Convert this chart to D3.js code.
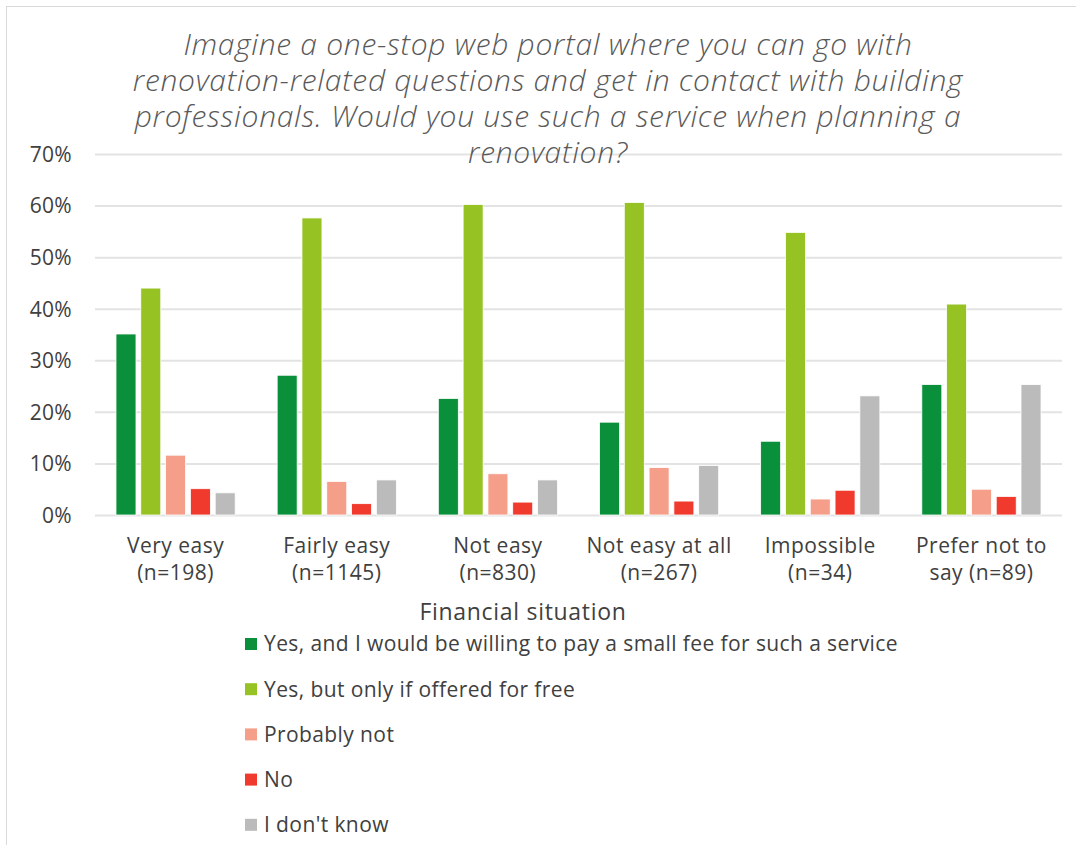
<!DOCTYPE html>
<html>
<head>
<meta charset="utf-8">
<script src="https://cdn.jsdelivr.net/npm/d3@7"></script>
<style>
  body { margin: 0; background: #fff; }
  text { font-family: "Open Sans", "Noto Sans", sans-serif; }
</style>
</head>
<body>
<div id="chart"></div>
<script>
var categories = [
  ["Very easy", "(n=198)"],
  ["Fairly easy", "(n=1145)"],
  ["Not easy", "(n=830)"],
  ["Not easy at all", "(n=267)"],
  ["Impossible", "(n=34)"],
  ["Prefer not to", "say (n=89)"]
];
var seriesNames = [
  "Yes, and I would be willing to pay a small fee for such a service",
  "Yes, but only if offered for free",
  "Probably not",
  "No",
  "I don't know"
];
var seriesColors = ["#0a8f3a", "#97c224", "#f59f8a", "#ef3a2d", "#bbbbbb"];
// values in % per series, one per category
var payFee   = [35.1, 27.1, 22.6, 18.0, 14.3, 25.3];
var onlyFree = [44.0, 57.6, 60.2, 60.6, 54.8, 40.9];
var probNot  = [11.6, 6.5, 8.0, 9.2, 3.1, 5.0];
var no       = [5.1, 2.2, 2.5, 2.7, 4.8, 3.6];
var dontKnow = [4.3, 6.8, 6.8, 9.6, 23.1, 25.3];
var yTicks = [0, 10, 20, 30, 40, 50, 60, 70];
var titleLines = [
  "Imagine a one-stop web portal where you can go with",
  "renovation-related questions and get in contact with building",
  "professionals. Would you use such a service when planning a",
  "renovation?"
];

var allSeries = [payFee, onlyFree, probNot, no, dontKnow];

var W = 1076, H = 845;
var svg = d3.select("#chart").append("svg").attr("width", W).attr("height", H);

// outer chart border
svg.append("rect")
  .attr("x", 6.5).attr("y", 6.5)
  .attr("width", W + 20).attr("height", H + 20)
  .attr("fill", "none").attr("stroke", "#d9d9d9").attr("stroke-width", 1);

var margin = {left: 95, right: 1062, top: 154, bottom: 515};

var x = d3.scaleBand().domain(d3.range(categories.length)).range([margin.left, margin.right]);
var y = d3.scaleLinear().domain([0, 70]).range([margin.bottom, margin.top]);
var step = 24.8;
var x1 = d3.scaleBand().domain(d3.range(seriesNames.length)).range([0, step * seriesNames.length]);

// gridlines + tick labels
var yAxis = d3.axisLeft(y).tickValues(yTicks).tickSize(-(margin.right - margin.left)).tickFormat(function(d) { return d + "%"; });
var gy = svg.append("g").attr("transform", "translate(" + margin.left + ",0)").call(yAxis);
gy.select(".domain").remove();
gy.selectAll(".tick line").attr("stroke", "#e3e3e3").attr("stroke-width", 2);
gy.selectAll(".tick text")
  .attr("x", -23).attr("dy", "0.35em")
  .attr("fill", "#404040").style("font-size", "21px").style("letter-spacing", "0.3px");

// bars
var groups = svg.append("g").selectAll("g").data(categories).join("g")
  .attr("transform", function(d, i) { return "translate(" + (x(i) + x.bandwidth() / 2 - x1.range()[1] / 2) + ",0)"; });

groups.selectAll("rect")
  .data(function(d, i) { return allSeries.map(function(s, k) { return {k: k, v: s[i]}; }); })
  .join("rect")
  .attr("x", function(d) { return x1(d.k) + 2.4; })
  .attr("width", x1.bandwidth() - 4.8)
  .attr("y", function(d) { return y(d.v); })
  .attr("height", function(d) { return y(0) - y(d.v); })
  .attr("fill", function(d) { return seriesColors[d.k]; })
  .attr("stroke", "#fff").attr("stroke-width", 0.8);

// category labels
var cl = svg.append("g").selectAll("text").data(categories).join("text")
  .attr("x", function(d, i) { return x(i) + x.bandwidth() / 2; })
  .attr("y", 553)
  .attr("text-anchor", "middle")
  .attr("fill", "#404040").style("font-size", "21px").style("letter-spacing", "0.5px");
cl.each(function(d) {
  var t = d3.select(this);
  d.forEach(function(line, j) {
    t.append("tspan").attr("x", t.attr("x")).attr("dy", j === 0 ? 0 : 27).text(line);
  });
});

// axis title
svg.append("text")
  .attr("x", 523).attr("y", 620)
  .attr("text-anchor", "middle")
  .attr("fill", "#404040").style("font-size", "23px").style("letter-spacing", "0.7px")
  .text("Financial situation");

// title (one text, wrapped lines)
var title = svg.append("text")
  .attr("x", 548).attr("y", 55)
  .attr("text-anchor", "middle")
  .attr("fill", "#595959")
  .style("font-size", "30px").style("font-style", "italic").style("font-weight", 300)
  .style("letter-spacing", "0.7px");
title.selectAll("tspan").data(titleLines).join("tspan")
  .attr("x", 548)
  .attr("dy", function(d, i) { return i === 0 ? 0 : 36; })
  .text(function(d) { return d; });

// legend
var leg = svg.append("g").selectAll("g").data(seriesNames).join("g")
  .attr("transform", function(d, i) { return "translate(245," + (644 + i * 45.2) + ")"; });
leg.append("rect")
  .attr("x", 0).attr("y", -6).attr("width", 12).attr("height", 12)
  .attr("fill", function(d, i) { return seriesColors[i]; });
leg.append("text")
  .attr("x", 19).attr("dy", "0.35em")
  .attr("fill", "#404040").style("font-size", "21px").style("letter-spacing", "0.4px")
  .text(function(d) { return d; });
</script>
</body>
</html>
